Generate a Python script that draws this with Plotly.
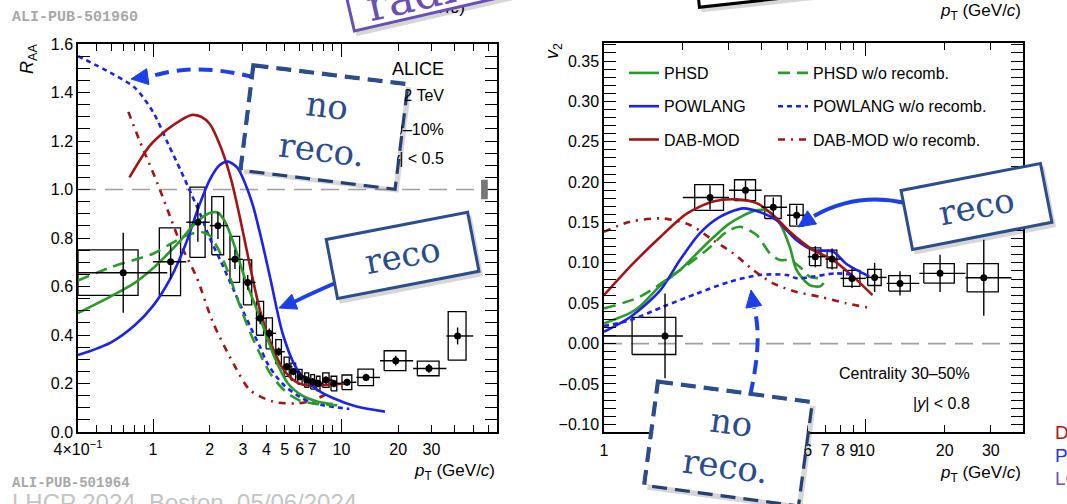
import math
import plotly.graph_objects as go

W, H = 1067, 504

# ---------------- R_AA data (left panel) ----------------
raa_pt = [0.695, 1.24, 1.73, 2.21, 2.72, 3.18, 3.70, 4.14, 4.64, 5.12, 5.55,
          6.02, 6.54, 7.03, 7.53, 8.27, 9.12, 10.7, 13.5, 19.4, 29.1, 41.3]
raa_pt_lo = [0.4, 1.0, 1.5, 2.0, 2.5, 3.0, 3.5, 4.0, 4.5, 5.0, 5.5,
             6.0, 6.5, 7.0, 7.5, 8.0, 9.0, 10.0, 12.0, 16.0, 24.0, 36.0]
raa_pt_hi = [1.19, 1.5, 2.0, 2.5, 3.0, 3.5, 4.0, 4.5, 5.0, 5.5, 6.0,
             6.5, 7.0, 7.5, 8.0, 9.0, 10.0, 12.0, 16.0, 24.0, 36.0, 50.0]
raa_val = [0.657, 0.702, 0.865, 0.851, 0.712, 0.617, 0.469, 0.407, 0.331, 0.269, 0.249,
           0.228, 0.214, 0.207, 0.200, 0.214, 0.200, 0.205, 0.225, 0.294, 0.262, 0.396]
raa_stat = [0.165, 0.07, 0.08, 0.055, 0.04, 0.03, 0.025, 0.02, 0.017, 0.015, 0.015,
            0.015, 0.015, 0.015, 0.015, 0.015, 0.015, 0.015, 0.015, 0.02, 0.018, 0.035]
raa_syst = [0.094, 0.14, 0.145, 0.12, 0.095, 0.093, 0.07, 0.064, 0.05, 0.04, 0.035,
            0.03, 0.03, 0.03, 0.03, 0.03, 0.03, 0.03, 0.034, 0.041, 0.03, 0.10]
raa_norm_unc = 0.04

# model curves, R_AA
phsd_raa_pt = [0.4, 0.6, 0.8, 1.0, 1.2, 1.4, 1.6, 1.8, 2.0, 2.2, 2.4, 2.7, 3.1, 3.7, 4.4, 5.2, 6.2, 7.5, 9.0]
phsd_raa = [0.49, 0.56, 0.615, 0.675, 0.735, 0.79, 0.845, 0.882, 0.903, 0.905, 0.87, 0.77, 0.625, 0.47, 0.31, 0.20, 0.15, 0.125, 0.115]
phsd_norec_raa_pt = [0.4, 0.6, 0.8, 1.0, 1.2, 1.5, 1.8, 2.0, 2.2, 2.5, 2.8, 3.2, 3.6, 4.2, 5.0, 6.0, 7.5, 9.5]
phsd_norec_raa = [0.625, 0.68, 0.71, 0.735, 0.77, 0.81, 0.825, 0.81, 0.76, 0.66, 0.55, 0.43, 0.34, 0.24, 0.17, 0.13, 0.115, 0.11]
powlang_raa_pt = [0.4, 0.6, 0.8, 1.0, 1.25, 1.5, 1.75, 2.0, 2.25, 2.5, 2.8, 3.1, 3.4, 3.8, 4.2, 4.9, 5.8, 7.4, 9.0, 12.0, 17.0]
powlang_raa = [0.317, 0.37, 0.44, 0.52, 0.64, 0.78, 0.93, 1.04, 1.10, 1.115, 1.09, 1.02, 0.93, 0.78, 0.63, 0.40, 0.26, 0.175, 0.14, 0.105, 0.084]
powlang_norec_raa_pt = [0.4, 0.6, 0.8, 1.0, 1.2, 1.4, 1.6, 1.8, 2.0, 2.3, 2.7, 3.0, 3.3, 3.7, 4.0, 4.5, 5.0, 6.0, 7.0, 8.0, 11.0]
powlang_norec_raa = [1.55, 1.48, 1.42, 1.32, 1.19, 1.08, 0.98, 0.89, 0.80, 0.70, 0.58, 0.50, 0.43, 0.35, 0.29, 0.23, 0.19, 0.145, 0.12, 0.11, 0.095]
dabmod_raa_pt = [0.75, 0.96, 1.18, 1.4, 1.6, 1.8, 2.0, 2.3, 2.6, 2.9, 3.3, 3.7, 4.2, 4.9, 5.8, 7.0, 8.5, 10.5]
dabmod_raa = [1.05, 1.18, 1.245, 1.285, 1.307, 1.30, 1.27, 1.17, 1.04, 0.88, 0.67, 0.50, 0.37, 0.26, 0.205, 0.19, 0.195, 0.20]
dabmod_norec_raa_pt = [0.74, 0.85, 1.05, 1.23, 1.42, 1.7, 2.09, 2.67, 3.27, 4.35, 5.79, 7.0, 8.5]
dabmod_norec_raa = [1.32, 1.20, 1.03, 0.89, 0.764, 0.64, 0.448, 0.283, 0.173, 0.125, 0.118, 0.13, 0.16]

# ---------------- v2 data (right panel) ----------------
v2_pt = [1.71, 2.54, 3.47, 4.43, 5.44, 6.41, 7.43, 8.85, 10.8, 13.5, 19.2, 28.2]
v2_pt_lo = [1.0, 2.0, 3.0, 4.0, 5.0, 6.0, 7.0, 8.0, 10.0, 12.0, 16.0, 24.0]
v2_pt_hi = [2.0, 3.0, 4.0, 5.0, 6.0, 7.0, 8.0, 10.0, 12.0, 16.0, 24.0, 36.0]
v2_val = [0.0095, 0.181, 0.190, 0.169, 0.159, 0.1076, 0.1047, 0.0808, 0.082, 0.0746, 0.087, 0.0815]
v2_stat = [0.0525, 0.015, 0.012, 0.012, 0.012, 0.013, 0.013, 0.012, 0.018, 0.015, 0.023, 0.047]
v2_syst = [0.023, 0.016, 0.013, 0.014, 0.0135, 0.011, 0.011, 0.010, 0.010, 0.0095, 0.012, 0.0175]

phsd_v2_pt = [1.0, 1.26, 1.37, 1.68, 1.95, 2.47, 3.02, 3.72, 4.17, 4.69, 5.12, 5.44, 6.1, 6.7, 6.9]
phsd_v2 = [0.025, 0.038, 0.046, 0.075, 0.091, 0.124, 0.149, 0.164, 0.165, 0.149, 0.12, 0.091, 0.0725, 0.071, 0.075]
phsd_norec_v2_pt = [1.0, 1.37, 1.95, 2.47, 2.94, 3.31, 3.83, 4.3, 4.69, 5.12, 5.6, 6.1, 6.7]
phsd_norec_v2 = [0.0436, 0.058, 0.091, 0.116, 0.1385, 0.1447, 0.1344, 0.1118, 0.1035, 0.1035, 0.095, 0.083, 0.081]
powlang_v2_pt = [1.0, 1.26, 1.64, 1.95, 2.32, 2.77, 3.4, 3.93, 4.56, 5.0, 5.44, 6.28, 7.5, 8.4, 9.77, 10.3]
powlang_v2 = [0.0146, 0.033, 0.066, 0.1035, 0.1366, 0.157, 0.1675, 0.163, 0.153, 0.14, 0.128, 0.116, 0.114, 0.099, 0.087, 0.083]
powlang_norec_v2_pt = [1.0, 1.26, 1.68, 2.26, 3.02, 3.93, 5.0, 5.44, 6.28, 7.7, 9.0]
powlang_norec_v2 = [0.0217, 0.029, 0.0456, 0.062, 0.0766, 0.085, 0.085, 0.081, 0.083, 0.087, 0.085]
dabmod_v2_pt = [1.0, 1.29, 1.64, 2.07, 2.61, 3.21, 3.83, 4.43, 5.12, 6.28, 7.5, 8.94, 10.6]
dabmod_v2 = [0.06, 0.099, 0.132, 0.161, 0.176, 0.1787, 0.174, 0.159, 0.1385, 0.116, 0.1035, 0.083, 0.06]
dabmod_norec_v2_pt = [1.0, 1.26, 1.68, 2.13, 2.61, 3.11, 3.72, 4.43, 5.44, 6.67, 8.4, 10.6]
dabmod_norec_v2 = [0.1385, 0.151, 0.155, 0.147, 0.128, 0.112, 0.091, 0.0746, 0.064, 0.058, 0.05, 0.0436]

# tick labels
raa_xticks = [0.4, 0.5, 0.6, 0.7, 0.8, 0.9, 1, 2, 3, 4, 5, 6, 7, 8, 9, 10, 20, 30, 40, 50, 60]
raa_xlabels = ["4×10<sup>−1</sup>", "", "", "", "", "", "1", "2", "3", "4", "5", "6", "7", "", "", "10", "20", "30", "", "", ""]
v2_xticks = [1, 2, 3, 4, 5, 6, 7, 8, 9, 10, 20, 30, 40]
v2_xlabels = ["1", "2", "3", "4", "5", "6", "7", "8", "9", "10", "20", "30", ""]
decade_ticks = [1, 10]

# ---------------- styling ----------------
GREEN = "#2a9a2a"
BLUE = "#1c22e6"
RED = "#a01616"
BOXBLUE = "#2b4d8c"
ARROWBLUE = "#1d3fe8"
PURPLE = "#6a4fb5"
FONT = "Liberation Sans"
SERIF = "DejaVu Serif"
BOX_FRAC = 0.32
# x-extent of the first (wide, low-pT) systematic boxes, as drawn in the original
RAA_FIRST_BOX = (0.4, 0.833)
V2_FIRST_BOX = (1.28, 1.88)

fig = go.Figure()


def syst_boxes(x, y, lo, hi, e, xa, ya, first_box):
    X, Y = [], []
    for i, (xi, yi, l, h, ei) in enumerate(zip(x, y, lo, hi, e)):
        if i == 0:
            x0, x1 = first_box
        else:
            hw = BOX_FRAC * (h - l)
            x0, x1 = xi - hw, xi + hw
        X += [x0, x1, x1, x0, x0, None]
        Y += [yi - ei, yi - ei, yi + ei, yi + ei, yi - ei, None]
    return go.Scatter(x=X, y=Y, mode="lines", line=dict(color="black", width=1.3),
                      xaxis=xa, yaxis=ya, showlegend=False, hoverinfo="skip")


def points(x, y, lo, hi, stat, xa, ya):
    return go.Scatter(
        x=x, y=y, mode="markers", marker=dict(color="black", size=7),
        error_y=dict(type="data", array=stat, color="black", thickness=1.4, width=0),
        error_x=dict(type="data", symmetric=False,
                     array=[h - xi for xi, h in zip(x, hi)],
                     arrayminus=[xi - l for xi, l in zip(x, lo)],
                     color="black", thickness=1.4, width=0),
        xaxis=xa, yaxis=ya, showlegend=False, hoverinfo="skip")


def curve(x, y, color, dash, xa, ya, name=None, legend=None):
    return go.Scatter(x=x, y=y, mode="lines",
                      line=dict(color=color, width=2.6, dash=dash, shape="spline", smoothing=0.8),
                      xaxis=xa, yaxis=ya, name=name, showlegend=legend is not None,
                      legend=legend if legend else "legend", legendgroup=name,
                      hoverinfo="skip")


DASH_G = "12px,7px"
DASH_B = "5px,4px"
DASH_R = "7px,6px,2px,6px"

# left panel
fig.add_trace(syst_boxes(raa_pt, raa_val, raa_pt_lo, raa_pt_hi, raa_syst, "x", "y", RAA_FIRST_BOX))
fig.add_trace(curve(dabmod_norec_raa_pt, dabmod_norec_raa, RED, DASH_R, "x", "y"))
fig.add_trace(curve(powlang_norec_raa_pt, powlang_norec_raa, BLUE, DASH_B, "x", "y"))
fig.add_trace(curve(phsd_norec_raa_pt, phsd_norec_raa, GREEN, DASH_G, "x", "y"))
fig.add_trace(curve(dabmod_raa_pt, dabmod_raa, RED, "solid", "x", "y"))
fig.add_trace(curve(powlang_raa_pt, powlang_raa, BLUE, "solid", "x", "y"))
fig.add_trace(curve(phsd_raa_pt, phsd_raa, GREEN, "solid", "x", "y"))
fig.add_trace(points(raa_pt, raa_val, raa_pt_lo, raa_pt_hi, raa_stat, "x", "y"))

# right panel
fig.add_trace(syst_boxes(v2_pt, v2_val, v2_pt_lo, v2_pt_hi, v2_syst, "x2", "y2", V2_FIRST_BOX))
fig.add_trace(curve(phsd_v2_pt, phsd_v2, GREEN, "solid", "x2", "y2", "PHSD", "legend"))
fig.add_trace(curve(powlang_v2_pt, powlang_v2, BLUE, "solid", "x2", "y2", "POWLANG", "legend"))
fig.add_trace(curve(dabmod_v2_pt, dabmod_v2, RED, "solid", "x2", "y2", "DAB-MOD", "legend"))
fig.add_trace(curve(phsd_norec_v2_pt, phsd_norec_v2, GREEN, DASH_G, "x2", "y2", "PHSD w/o recomb.", "legend2"))
fig.add_trace(curve(powlang_norec_v2_pt, powlang_norec_v2, BLUE, DASH_B, "x2", "y2", "POWLANG w/o recomb.", "legend2"))
fig.add_trace(curve(dabmod_norec_v2_pt, dabmod_norec_v2, RED, DASH_R, "x2", "y2", "DAB-MOD w/o recomb.", "legend2"))
fig.add_trace(points(v2_pt, v2_val, v2_pt_lo, v2_pt_hi, v2_stat, "x2", "y2"))

# empty traces so the decade-tick overlay axes are drawn
fig.add_trace(go.Scatter(x=[], y=[], xaxis="x3", yaxis="y", showlegend=False))
fig.add_trace(go.Scatter(x=[], y=[], xaxis="x4", yaxis="y2", showlegend=False))

L_DOM = [78 / W, 497 / W]
R_DOM = [604 / W, 1023 / W]
Y_DOM_L = [1 - 432 / H, 1 - 44 / H]
Y_DOM_R = [1 - 432 / H, 1 - 43.3 / H]
L_XR = [math.log10(0.4), 1.825]
R_XR = [0.0, 1.6]

tickfont = dict(family=FONT, size=16, color="black")
common = dict(showgrid=False, zeroline=False, showline=True, linecolor="black", linewidth=1.5,
              ticks="inside", tickcolor="black", tickwidth=1.3, mirror="allticks", tickfont=tickfont,
              automargin=False, tickangle=0)

fig.update_layout(
    width=W, height=H, margin=dict(l=0, r=0, t=0, b=0, autoexpand=False),
    paper_bgcolor="white", plot_bgcolor="white",
    font=dict(family=FONT, size=16, color="black"),
    xaxis=dict(type="log", range=L_XR, domain=L_DOM, anchor="y", tickmode="array",
               tickvals=raa_xticks, ticktext=raa_xlabels, ticklen=7, ticklabelstandoff=2, **common),
    xaxis3=dict(type="log", range=L_XR, overlaying="x", anchor="y", tickmode="array",
                tickvals=decade_ticks, ticklen=13, showticklabels=False, **common),
    yaxis=dict(range=[0, 1.6], domain=Y_DOM_L, anchor="x", dtick=0.2, tick0=0, tickformat=".1f",
               ticklen=12, minor=dict(dtick=0.05, ticklen=6, ticks="inside", tickcolor="black", tickwidth=1.3),
               **common),
    xaxis2=dict(type="log", range=R_XR, domain=R_DOM, anchor="y2", tickmode="array",
                tickvals=v2_xticks, ticktext=v2_xlabels, ticklen=7, ticklabelstandoff=3, **common),
    xaxis4=dict(type="log", range=R_XR, overlaying="x2", anchor="y2", tickmode="array",
                tickvals=decade_ticks, ticklen=13, showticklabels=False, **common),
    yaxis2=dict(range=[-0.1095, 0.372], domain=Y_DOM_R, anchor="x2", dtick=0.05, tick0=0, tickformat=".2f",
                ticklen=12, minor=dict(dtick=0.01, ticklen=6, ticks="inside", tickcolor="black", tickwidth=1.3),
                **common),
    legend=dict(x=624 / W, y=1 - 56 / H, xanchor="left", yanchor="top", bgcolor="rgba(0,0,0,0)",
                font=dict(family=FONT, size=16, color="black"), tracegroupgap=9.5, itemwidth=30),
    legend2=dict(x=773 / W, y=1 - 56 / H, xanchor="left", yanchor="top", bgcolor="rgba(0,0,0,0)",
                 font=dict(family=FONT, size=16, color="black"), tracegroupgap=9.5, itemwidth=30),
)

shapes = []
# reference lines
shapes.append(dict(type="line", xref="x domain", yref="y", x0=0, x1=1, y0=1, y1=1, layer="below",
                   line=dict(color="#a0a0a0", width=1.6, dash="18px,9px")))
shapes.append(dict(type="line", xref="x2 domain", yref="y2", x0=0, x1=1, y0=0, y1=0, layer="below",
                   line=dict(color="#a0a0a0", width=1.6, dash="18px,9px")))
# normalisation uncertainty box
shapes.append(dict(type="rect", xref="x domain", yref="y", x0=0.962, x1=0.978,
                   y0=1 - raa_norm_unc, y1=1 + raa_norm_unc, fillcolor="#777777", line=dict(width=0)))


def P(x, y):
    return f"{x / W:.5f},{1 - y / H:.5f}"


def rot_pts(cx, cy, w, h, ang):
    t = math.radians(ang)
    c, s = math.cos(t), math.sin(t)
    return [(cx + dx * c - dy * s, cy + dx * s + dy * c)
            for dx, dy in [(-w / 2, -h / 2), (w / 2, -h / 2), (w / 2, h / 2), (-w / 2, h / 2)]]


def rot_rect_path(cx, cy, w, h, ang):
    return "M " + " L ".join(P(*p) for p in rot_pts(cx, cy, w, h, ang)) + " Z"


def head(tip, frm, length=17, half=8):
    dx, dy = tip[0] - frm[0], tip[1] - frm[1]
    n = math.hypot(dx, dy)
    ux, uy = dx / n, dy / n
    bx, by = tip[0] - length * ux, tip[1] - length * uy
    px_, py_ = -uy, ux
    pts = [tip, (bx + half * px_, by + half * py_), (bx - half * px_, by - half * py_)]
    return "M " + " L ".join(P(*p) for p in pts) + " Z"


def curved_arrow(p0, c, p2, tip, color, dash=None, width=4):
    line = dict(color=color, width=width)
    if dash:
        line["dash"] = dash
    shapes.append(dict(type="path", xref="paper", yref="paper", layer="above",
                       path=f"M {P(*p0)} Q {P(*c)} {P(*p2)}", line=line))
    shapes.append(dict(type="path", xref="paper", yref="paper", layer="above",
                       path=head(tip, p2), fillcolor=color, line=dict(color=color, width=1)))


# arrows
curved_arrow((256, 78), (198, 62), (152, 76), (131, 79), ARROWBLUE, dash="14px,8px")
curved_arrow((340, 281), (310, 294), (294, 302), (279, 308), ARROWBLUE)
curved_arrow((905, 203), (857, 192), (814, 216), (798, 227), ARROWBLUE)
curved_arrow((750, 396), (763, 338), (754, 308), (751, 290), ARROWBLUE, dash="14px,8px")

# dashed borders of "no reco." boxes
NR_L = (324, 127, 151, 101, 7.0)
NR_R = (728, 443.5, 151, 100, 7.6)
for (cx, cy, w, h, a) in (NR_L, NR_R):
    shapes.append(dict(type="path", xref="paper", yref="paper", layer="above",
                       path=rot_rect_path(cx, cy, w + 4, h + 4, a),
                       line=dict(color=BOXBLUE, width=4.5, dash="15px,8px")))

fig.update_layout(shapes=shapes)

ann = []


def txt(x, y, text, size=16, color="black", xanchor="left", yanchor="middle", family=FONT, angle=0):
    ann.append(dict(x=x / W, y=1 - y / H, xref="paper", yref="paper", text=text, showarrow=False,
                    xanchor=xanchor, yanchor=yanchor, textangle=angle,
                    font=dict(family=family, size=size, color=color)))


PT = "<i>p</i><sub>T</sub> (GeV/<i>c</i>)"
# axis titles
txt(28, 59, "<i>R</i><sub>AA</sub>", size=18, xanchor="center", angle=-90)
txt(554, 51, "<i>v</i><sub>2</sub>", size=18, xanchor="center", angle=-90)
txt(497, 472, PT, size=17, xanchor="right")
txt(1023, 474, PT, size=17, xanchor="right")
# fragments of the slide's other plots
txt(467, 9, PT, size=17, xanchor="right")
txt(1023, 12, PT, size=17, xanchor="right")

# left panel labels
txt(446, 69, "ALICE", size=18, xanchor="right")
txt(446, 97, "Pb–Pb, √<i>s</i><sub>NN</sub> = 5.02 TeV", size=16, xanchor="right")
txt(446, 129, "0–10%", size=16, xanchor="right")
txt(446, 158, "|<i>y</i>| < 0.5", size=16, xanchor="right")
# right panel labels
txt(972, 373, "Centrality 30–50%", size=16, xanchor="right")
txt(972, 403, "|<i>y</i>| < 0.8", size=16, xanchor="right")

# stamps
txt(10, 18, "<b>ALI-PUB-501960</b>", size=15, color="#a8a8a8", family="Liberation Mono")
txt(10, 483, "<b>ALI-PUB-501964</b>", size=14, color="#a8a8a8", family="Liberation Mono")
txt(10, 502, "LHCP 2024, Boston, 05/06/2024", size=24, color="#c4c4c4")

# right-edge fragments
txt(1053, 432, "DAB-MOD", size=19, color="#b01212")
txt(1053, 455, "POWLANG", size=19, color="#1f3ad8")
txt(1053, 478, "LGR", size=19, color="#6a52c0")


def box(cx, cy, w, h, ang, text, size, color, border=None, bw=0, family=SERIF, shadow=True):
    if shadow:
        ann.append(dict(x=(cx + 3) / W, y=1 - (cy + 4) / H, xref="paper", yref="paper", text=" ",
                        showarrow=False, xanchor="center", yanchor="middle", textangle=ang,
                        width=w + 4, height=h + 4, bgcolor="rgba(0,0,0,0.16)", borderpad=0,
                        font=dict(size=10)))
    d = dict(x=cx / W, y=1 - cy / H, xref="paper", yref="paper", text=text, showarrow=False,
             xanchor="center", yanchor="middle", textangle=ang, width=w, height=h,
             bgcolor="white", borderpad=0, font=dict(family=family, size=size, color=color))
    if border:
        d.update(bordercolor=border, borderwidth=bw)
    ann.append(d)


# top fragments: purple and black boxes (mostly above the visible area)
box(483, -32, 277, 62, -13, " ", 20, PURPLE, border=PURPLE, bw=3)
txt(483, -20, "radial flow", size=44, color=PURPLE, xanchor="center", family=SERIF, angle=-13)
box(777, -33, 160, 60, -6.3, " ", 20, "black", border="black", bw=3)

# annotation boxes
box(*NR_L, "no<br>reco.", 34, BOXBLUE)
box(402, 255, 141, 57, -10.9, "reco", 34, BOXBLUE, border=BOXBLUE, bw=3)
box(976, 206.5, 139, 57, -11, "reco", 34, BOXBLUE, border=BOXBLUE, bw=3)
box(*NR_R, "no<br>reco.", 34, BOXBLUE)

fig.update_layout(annotations=ann)

fig.write_html("out.html")
